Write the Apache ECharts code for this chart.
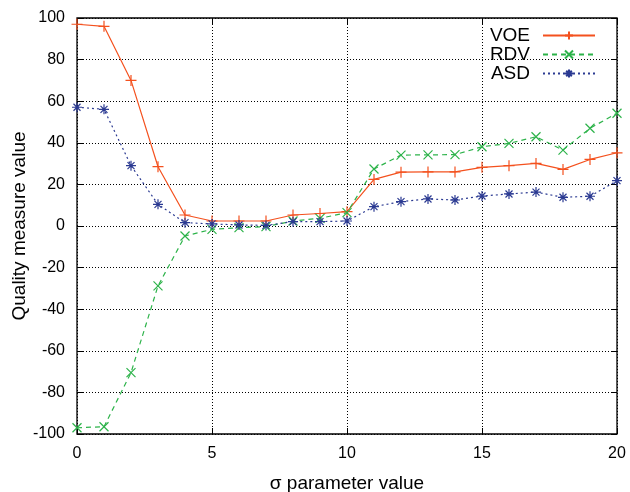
<!DOCTYPE html>
<html><head><meta charset="utf-8">
<script src="https://cdn.jsdelivr.net/npm/echarts@6/dist/echarts.min.js"></script>
<style>html,body{margin:0;padding:0;background:#fff}#c{width:630px;height:492px}</style>
</head><body><div id="c"></div>
<script>
var sigma = [0,1,2,3,4,5,6,7,8,9,10,11,12,13,14,15,16,17,18,19,20];
var voe = [97,96,70,28.5,5.3,2.4,2.4,2.4,5.3,6,6.9,22.4,25.9,26,26,28.2,29,30.1,27.2,32,35.2];
var rdv = [-97,-96.5,-70.5,-28.8,-4.8,-1.6,-0.8,-0.3,2.4,3.7,6.4,27.4,34.1,34.2,34.3,38.1,39.7,42.9,36.5,47,54.2];
var asd = [57.1,56.1,29,10.4,1.6,1,0.5,0.3,2.1,2.1,2.4,9.3,11.7,13,12.5,14.4,15.4,16.3,13.8,14.3,21.8];
var yTicks = [-100,-80,-60,-40,-20,0,20,40,60,80,100];
var xTicks = [0,5,10,15,20];

var cRed = '#f4511e', cGreen = '#2db34a', cBlue = '#2b3a92';
var plus = 'path://M0,5L10,5M5,0L5,10';
var cross = 'path://M0,0L10,10M10,0L0,10';
var star = 'path://M0,5L10,5M5,0L5,10M1.5,1.5L8.5,8.5M8.5,1.5L1.5,8.5';
function pairs(v){ return sigma.map(function(s,i){return [s, v[i]];}); }
var font = 'Liberation Sans, Arial, Helvetica, sans-serif';
var gridLine = {show:true, lineStyle:{color:'#000', type:[1,2], width:1}};
var tick = {show:true, inside:true, length:6, lineStyle:{color:'#000'}};
var noLine = {show:false, onZero:false};
var chart = echarts.init(document.getElementById('c'), null, {renderer:'canvas'});
function mk(name, data, color, sym, ltype, size){
  return {name:name, type:'line', data:pairs(data), symbol:sym, symbolSize:size, showAllSymbol:true,
    lineStyle:{color:color, width:1.2, type:ltype},
    itemStyle:{color:color, borderColor:color, borderWidth:1.2},
    emphasis:{disabled:true}, animation:false, z:3};
}
chart.setOption({
  animation:false,
  textStyle:{fontFamily:font},
  grid:{left:77, right:13, top:18, bottom:58, show:true, borderColor:'#000', borderWidth:1.3,
        outerBoundsMode:'none', containLabel:false},
  legend:{
    right:29, top:21, orient:'vertical', align:'right', itemWidth:52, itemHeight:10, itemGap:0,
    textStyle:{fontSize:19, lineHeight:18.7, color:'#000', fontFamily:font, padding:[0,8,0,0]},
    data:['VOE','RDV','ASD']
  },
  xAxis:[{
    type:'value', min:0, max:20, interval:5,
    name:'σ parameter value', nameLocation:'middle', nameGap:40, nameMoveOverlap:false,
    nameTextStyle:{fontSize:19, color:'#000', fontFamily:font},
    axisLine:noLine, axisTick:tick,
    axisLabel:{fontSize:16, color:'#000', margin:12, fontFamily:font},
    splitLine:gridLine
  },{
    type:'value', min:0, max:20, interval:5, position:'top',
    axisLine:noLine, axisTick:tick,
    axisLabel:{show:false}, splitLine:{show:false}
  }],
  yAxis:[{
    type:'value', min:-100, max:100, interval:20,
    name:'Quality measure value', nameLocation:'middle', nameGap:48, nameMoveOverlap:false,
    nameTextStyle:{fontSize:19, color:'#000', fontFamily:font},
    axisLine:noLine, axisTick:tick,
    axisLabel:{fontSize:16, color:'#000', margin:12, fontFamily:font},
    splitLine:gridLine
  },{
    type:'value', min:-100, max:100, interval:20, position:'right',
    axisLine:noLine, axisTick:tick,
    axisLabel:{show:false}, splitLine:{show:false}
  }],
  series:[
    mk('VOE', voe, cRed, plus, 'solid', 11),
    mk('RDV', rdv, cGreen, cross, [5,4], 9),
    mk('ASD', asd, cBlue, star, [2,3], 10)
  ]
});
</script></body></html>
